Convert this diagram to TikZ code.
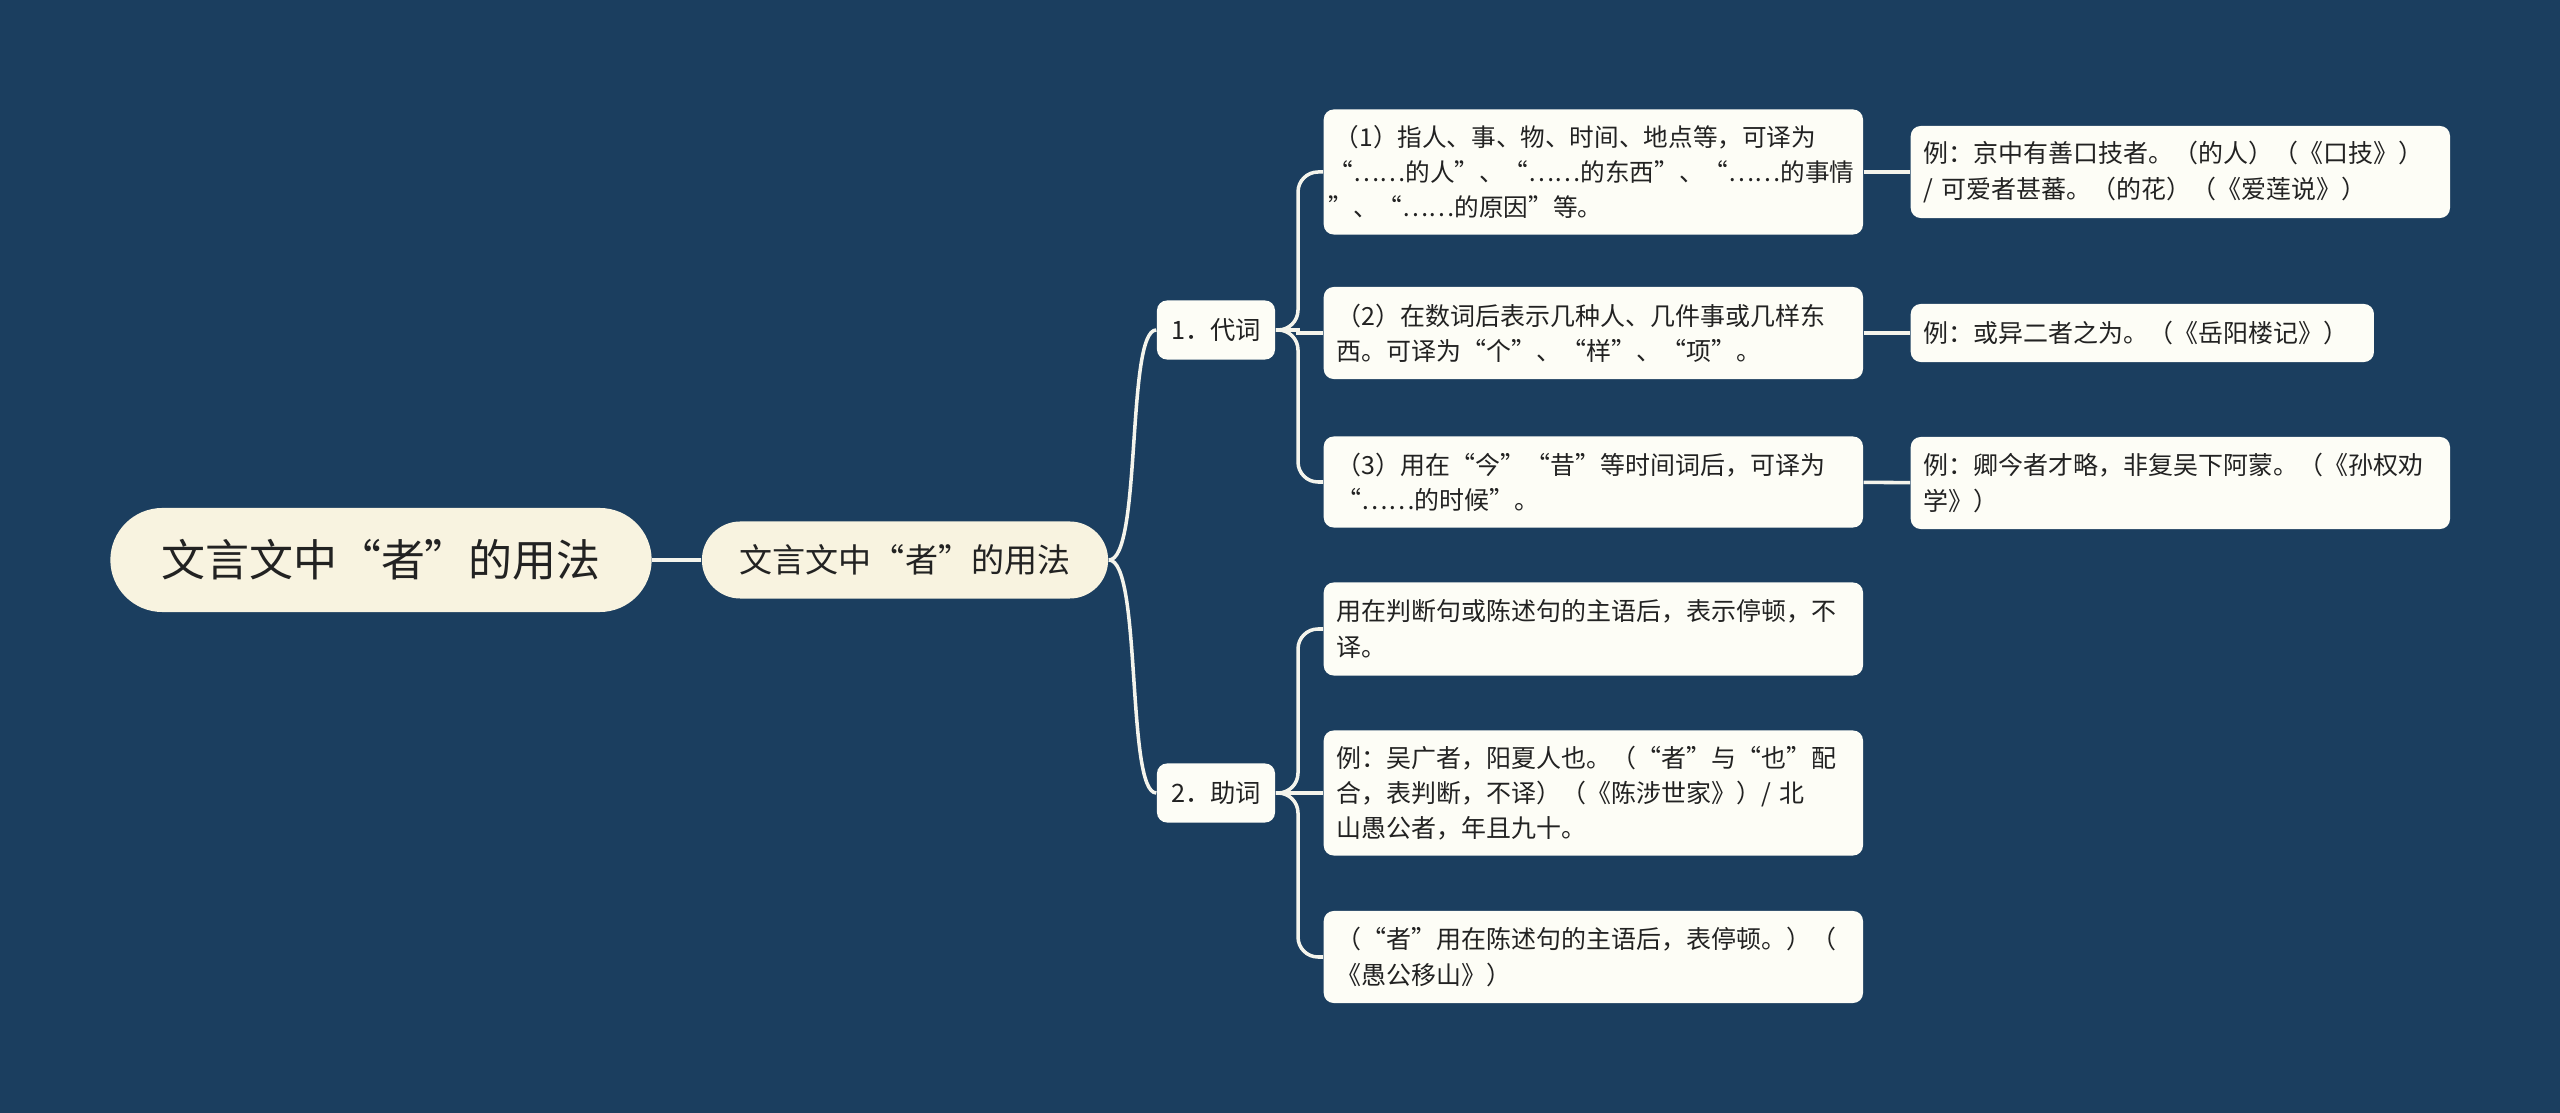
\documentclass[tikz,border=0pt]{standalone}
\usepackage{fontspec}
\setmainfont{Noto Sans CJK SC}
\usepackage{xcolor}
\definecolor{bgblue}{HTML}{1B3E5F}
\definecolor{cream}{HTML}{F8F3E0}
\definecolor{paper}{HTML}{FDFDF6}
\definecolor{ink}{HTML}{222222}
\definecolor{wire}{HTML}{F4F4EC}

\begin{document}
\begin{tikzpicture}[x=0.01cm,y=-0.01cm,
  rootbox/.style={fill=cream,text=ink,rounded corners=0.52cm,minimum width=5.41cm,minimum height=1.04cm,font=\fontsize{12.5}{15}\selectfont},
  topicbox/.style={fill=cream,text=ink,rounded corners=0.385cm,minimum width=4.06cm,minimum height=0.77cm,font=\fontsize{9.4}{11}\selectfont},
  partbox/.style={fill=paper,text=ink,rounded corners=0.1cm,minimum width=1.18cm,minimum height=0.59cm,font=\fontsize{7.2}{10}\selectfont},
  leafbox/.style={fill=paper,text=ink,rounded corners=0.1cm,anchor=west,align=left,text width=#1,inner xsep=0.13cm,inner ysep=0.08cm,font=\fontsize{7.1}{10}\selectfont},
  leafbox/.default=5.13cm,
  link/.style={draw=wire,line width=1pt}]
\fill[bgblue] (0,0) rectangle (2560,1113);
\useasboundingbox (0,0) rectangle (2560,1113);
%
\node[rootbox] (root) at (381,560) {文言文中“者”的用法};
\node[topicbox] (topic) at (905,560) {文言文中“者”的用法};
\node[partbox] (pron) at (1216,330) {1．代词};
\node[partbox] (aux) at (1216,793) {2．助词};
%
\node[leafbox=5.29cm,inner xsep=0.05cm,minimum height=1.25cm,font=\fontsize{7}{10}\selectfont] (p1) at (1323,172) {\hspace{0.06cm}（1）指人、事、物、时间、地点等，可译为\\“……的人”、“……的东西”、“……的事情\\”、“……的原因”等。};
\node[leafbox,minimum height=0.92cm] (p2) at (1323,333) {（2）在数词后表示几种人、几件事或几样东\\西。可译为“个”、“样”、“项”。};
\node[leafbox,minimum height=0.91cm] (p3) at (1323,482) {（3）用在“今”“昔”等时间词后，可译为\\“……的时候”。};
\node[leafbox,minimum height=0.92cm] (e1) at (1910,172) {例：京中有善口技者。（的人）（《口技》）\\/ 可爱者甚蕃。（的花）（《爱莲说》）};
\node[leafbox=4.37cm,minimum height=0.58cm] (e2) at (1910,333) {例：或异二者之为。（《岳阳楼记》）};
\node[leafbox,minimum height=0.92cm] (e3) at (1910,483) {例：卿今者才略，非复吴下阿蒙。（《孙权劝\\学》）};
%
\node[leafbox,minimum height=0.93cm] (q1) at (1323,629) {用在判断句或陈述句的主语后，表示停顿，不\\译。};
\node[leafbox,minimum height=1.25cm] (q2) at (1323,793) {例：吴广者，阳夏人也。（“者”与“也”配\\合，表判断，不译）（《陈涉世家》）/ 北\\山愚公者，年且九十。};
\node[leafbox,minimum height=0.92cm] (q3) at (1323,957) {（“者”用在陈述句的主语后，表停顿。）（\\《愚公移山》）};
%
\draw[link] (root) -- (topic);
\draw[link] (topic.east) .. controls (1142,560) and (1126,330) .. (pron.west);
\draw[link] (topic.east) .. controls (1142,560) and (1126,793) .. (aux.west);
%
\draw[link,rounded corners=0.2cm] (pron.east) -- (1298,330) |- (p1.west);
\draw[link] (pron.east) -- (1298,330) |- (p2.west);
\draw[link,rounded corners=0.2cm] (pron.east) -- (1298,330) |- (p3.west);
\draw[link] (p1) -- (e1);
\draw[link] (p2) -- (e2);
\draw[link] (p3) -- (e3);
%
\draw[link,rounded corners=0.2cm] (aux.east) -- (1298,793) |- (q1.west);
\draw[link] (aux) -- (q2);
\draw[link,rounded corners=0.2cm] (aux.east) -- (1298,793) |- (q3.west);
\end{tikzpicture}
\end{document}
